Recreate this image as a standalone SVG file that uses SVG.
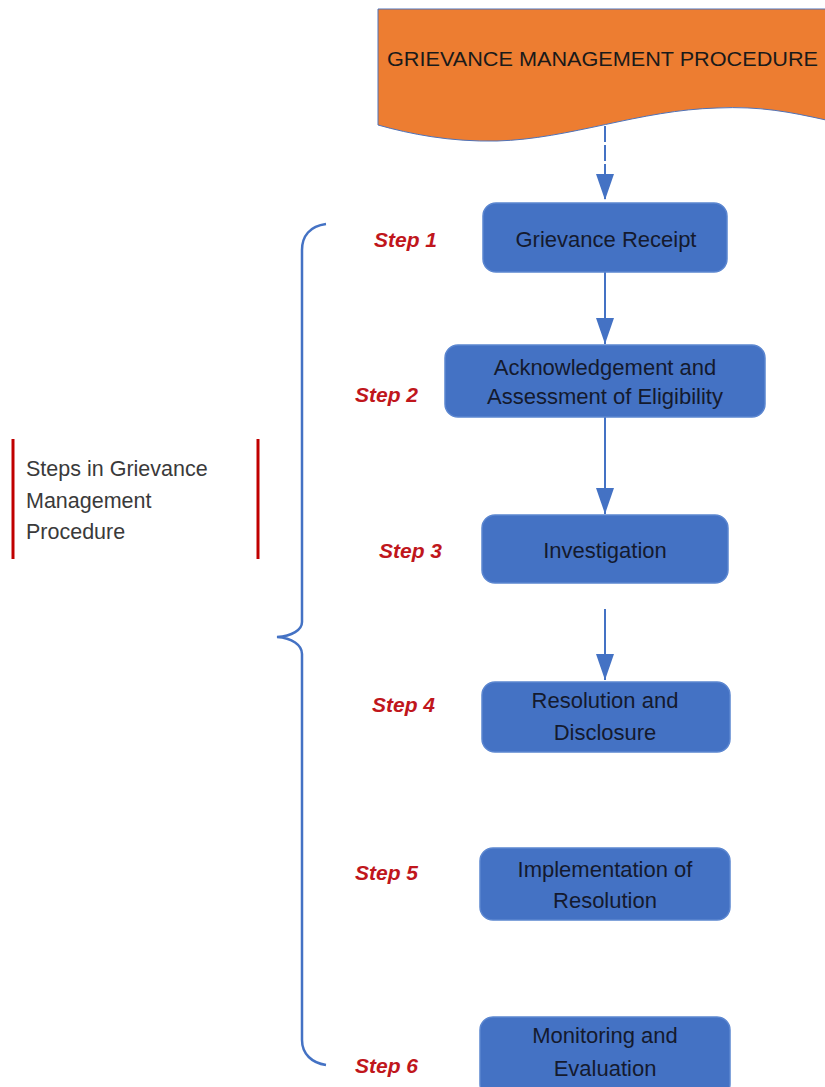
<svg xmlns="http://www.w3.org/2000/svg" width="825" height="1087" viewBox="0 0 825 1087">
<style>
.box{fill:#4472C4;stroke:#5b86d0;stroke-width:1.5}
.bt{font-family:"Liberation Sans",Arial,sans-serif;font-size:22px;fill:#141a2e;text-anchor:middle}
.step{font-family:"Liberation Sans",Arial,sans-serif;font-size:21px;font-weight:bold;font-style:italic;fill:#C0161C}
.conn{stroke:#4472C4;stroke-width:2;fill:none}
</style>
<defs>
<marker id="ah" markerWidth="26" markerHeight="18" refX="26" refY="9" orient="auto" markerUnits="userSpaceOnUse" viewBox="0 0 26 18">
<path d="M0,0 L26,9 L0,18 Z" fill="#4472C4"/>
</marker>
</defs>
<rect width="825" height="1087" fill="#ffffff"/>
<g id="banner">
<path d="M378,9 L826,9 L826,120 C790,112 760,106 717,108 C640,110 570,139 497,141 C450,142 410,134 378,125 Z" fill="#ED7D31" stroke="#4f72b8" stroke-width="1"/>
<text x="387" y="66" font-family="Liberation Sans,Arial,sans-serif" font-size="21" fill="#1a1a1a" textLength="431" lengthAdjust="spacingAndGlyphs">GRIEVANCE MANAGEMENT PROCEDURE</text>
</g>
<g id="connectors">
<line class="conn" x1="605" y1="126" x2="605" y2="200" stroke-dasharray="16,3" stroke="#6f93d4" marker-end="url(#ah)"/>
<line class="conn" x1="605" y1="272" x2="605" y2="344" marker-end="url(#ah)"/>
<line class="conn" x1="605" y1="417" x2="605" y2="514" marker-end="url(#ah)"/>
<line class="conn" x1="605" y1="609" x2="605" y2="680" marker-end="url(#ah)"/>
</g>
<g id="brace">
<path d="M326,224 C310,226 302,236 302,250 L302,622 C302,630 292,636 277,637 C292,638 302,645 302,654 L302,1040 C302,1054 312,1063 326,1065" fill="none" stroke="#4472C4" stroke-width="2.5"/>
</g>
<g id="legend">
<line x1="13" y1="439" x2="13" y2="559" stroke="#C00000" stroke-width="3"/>
<line x1="258" y1="439" x2="258" y2="559" stroke="#C00000" stroke-width="3"/>
<text font-family="Liberation Sans,Arial,sans-serif" font-size="21.5" fill="#3a3a3a"><tspan x="26" y="476">Steps in Grievance</tspan><tspan x="26" y="508">Management</tspan><tspan x="26" y="539">Procedure</tspan></text>
</g>
<g id="step1"><rect class="box" x="483" y="203" width="244" height="69" rx="13"/><text class="bt" x="606" y="247">Grievance Receipt</text><text class="step" x="374" y="247">Step 1</text></g>
<g id="step2"><rect class="box" x="445" y="345" width="320" height="72" rx="13"/><text class="bt" x="605" y="375">Acknowledgement and</text><text class="bt" x="605" y="404">Assessment of Eligibility</text><text class="step" x="355" y="402">Step 2</text></g>
<g id="step3"><rect class="box" x="482" y="515" width="246" height="68" rx="13"/><text class="bt" x="605" y="558">Investigation</text><text class="step" x="379" y="558">Step 3</text></g>
<g id="step4"><rect class="box" x="482" y="682" width="248" height="70" rx="13"/><text class="bt" x="605" y="708">Resolution and</text><text class="bt" x="605" y="740">Disclosure</text><text class="step" x="372" y="712">Step 4</text></g>
<g id="step5"><rect class="box" x="480" y="848" width="250" height="72" rx="13"/><text class="bt" x="605" y="877">Implementation of</text><text class="bt" x="605" y="908">Resolution</text><text class="step" x="355" y="880">Step 5</text></g>
<g id="step6"><rect class="box" x="480" y="1017" width="250" height="80" rx="13"/><text class="bt" x="605" y="1043">Monitoring and</text><text class="bt" x="605" y="1076">Evaluation</text><text class="step" x="355" y="1073">Step 6</text></g>
</svg>
